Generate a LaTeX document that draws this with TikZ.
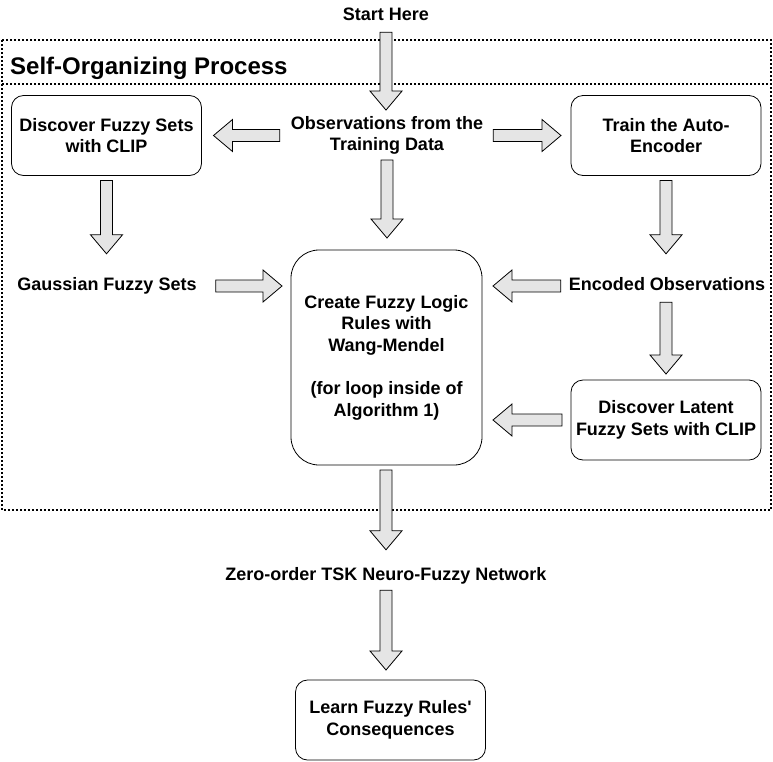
\documentclass[tikz,border=0pt]{standalone}
\usepackage{fontspec}
\setmainfont{Liberation Sans}
\usetikzlibrary{positioning,calc}

\begin{document}
\begin{tikzpicture}[x=1pt, y=-1pt,
    font=\fontsize{18}{21.6}\selectfont\bfseries,
    box/.style={draw, line width=0.8pt, rounded corners=12pt, minimum width=190pt,
        minimum height=80pt, align=center, inner sep=0pt, outer sep=0pt},
    txt/.style={align=center, inner sep=0pt, text height=13pt, text depth=4pt},
    frame/.style={line width=2pt, dash pattern=on 2pt off 2pt},
    blockarrow/.style={draw=black, fill=gray!20, line width=0.8pt, line join=miter,
        to path={
            ($(\tikztostart)!6pt!90:(\tikztotarget)$) --
            ($(\tikztotarget)!19pt!(\tikztostart)!6pt!-90:(\tikztostart)$) --
            ($(\tikztotarget)!19pt!(\tikztostart)!16pt!-90:(\tikztostart)$) --
            (\tikztotarget) --
            ($(\tikztotarget)!19pt!(\tikztostart)!16pt!90:(\tikztostart)$) --
            ($(\tikztotarget)!19pt!(\tikztostart)!6pt!90:(\tikztostart)$) --
            ($(\tikztostart)!6pt!-90:(\tikztotarget)$) -- cycle}}]
    \useasboundingbox (0,0) rectangle (773,761);

    % Dotted frame with title band
    \draw[frame] (2,40) rectangle (771,510);
    \draw[frame] (2,84) -- (771,84);
    \node[anchor=west, inner sep=0pt, font=\fontsize{24}{28}\selectfont\bfseries]
        (title) at (10,68.4) {Self-Organizing Process};

    % Entry point
    \node[txt] (start) at (386,16) {Start Here};

    % Inner steps of the self-organizing process
    \node[align=center, inner sep=0pt] (obs) at (387,135.5)
        {Observations from the\\Training Data};
    \node[box] (fuzzy) at (106.5,135.5) {Discover Fuzzy Sets\\with CLIP};
    \node[box] (auto) at (666,135.5) {Train the Auto-\\Encoder};
    \node[txt] (gauss) at (107,286) {Gaussian Fuzzy Sets};
    \node[txt] (enc) at (667,286) {Encoded Observations};
    \node[box, rounded corners=28pt, minimum width=191pt, minimum height=215pt]
        (rules) at (386.5,357.5)
        {Create Fuzzy Logic\\Rules with\\Wang-Mendel\\[21.6pt](for loop inside of\\Algorithm 1)};
    \node[box] (latent) at (666,420) {Discover Latent\\Fuzzy Sets with CLIP};

    % Outputs
    \node[txt] (tsk) at (386,576) {Zero-order TSK Neuro-Fuzzy Network};
    \node[box] (learn) at (390.5,720) {Learn Fuzzy Rules\textquotesingle\\Consequences};

    % Block arrows
    \draw[blockarrow] ([yshift=-7.5pt]start.south) to ([yshift=6pt]start.south |- obs.north);
    \draw[blockarrow] ([xshift=-11pt]obs.west) to ([xshift=12pt]obs.west -| fuzzy.east);
    \draw[blockarrow] ([xshift=10pt]obs.east) to ([xshift=-10pt]obs.east -| auto.west);
    \draw[blockarrow] ([yshift=-5pt]obs.south) to ([yshift=12pt]obs.south |- rules.north);
    \draw[blockarrow] ([yshift=-5pt]fuzzy.south) to ([yshift=23.5pt]fuzzy.south |- gauss.north);
    \draw[blockarrow] ([yshift=-5pt]auto.south) to ([yshift=23.5pt]auto.south |- enc.north);
    \draw[blockarrow] ([xshift=19pt]gauss.east) to ([xshift=-9pt]gauss.east -| rules.west);
    \draw[blockarrow] ([xshift=-8pt]enc.west) to ([xshift=11pt]enc.west -| rules.east);
    \draw[blockarrow] ([yshift=-7.5pt]auto.south |- enc.south) to ([yshift=6pt]auto.south |- latent.north);
    \draw[blockarrow] ([xshift=-9pt]latent.west) to ([xshift=11pt]latent.west -| rules.east);
    \draw[blockarrow] ([yshift=-5pt]tsk.north |- rules.south) to ([yshift=17.5pt]tsk.north);
    \draw[blockarrow] ([yshift=-5.5pt]tsk.south) to ([yshift=10pt]tsk.south |- learn.north);
\end{tikzpicture}
\end{document}
